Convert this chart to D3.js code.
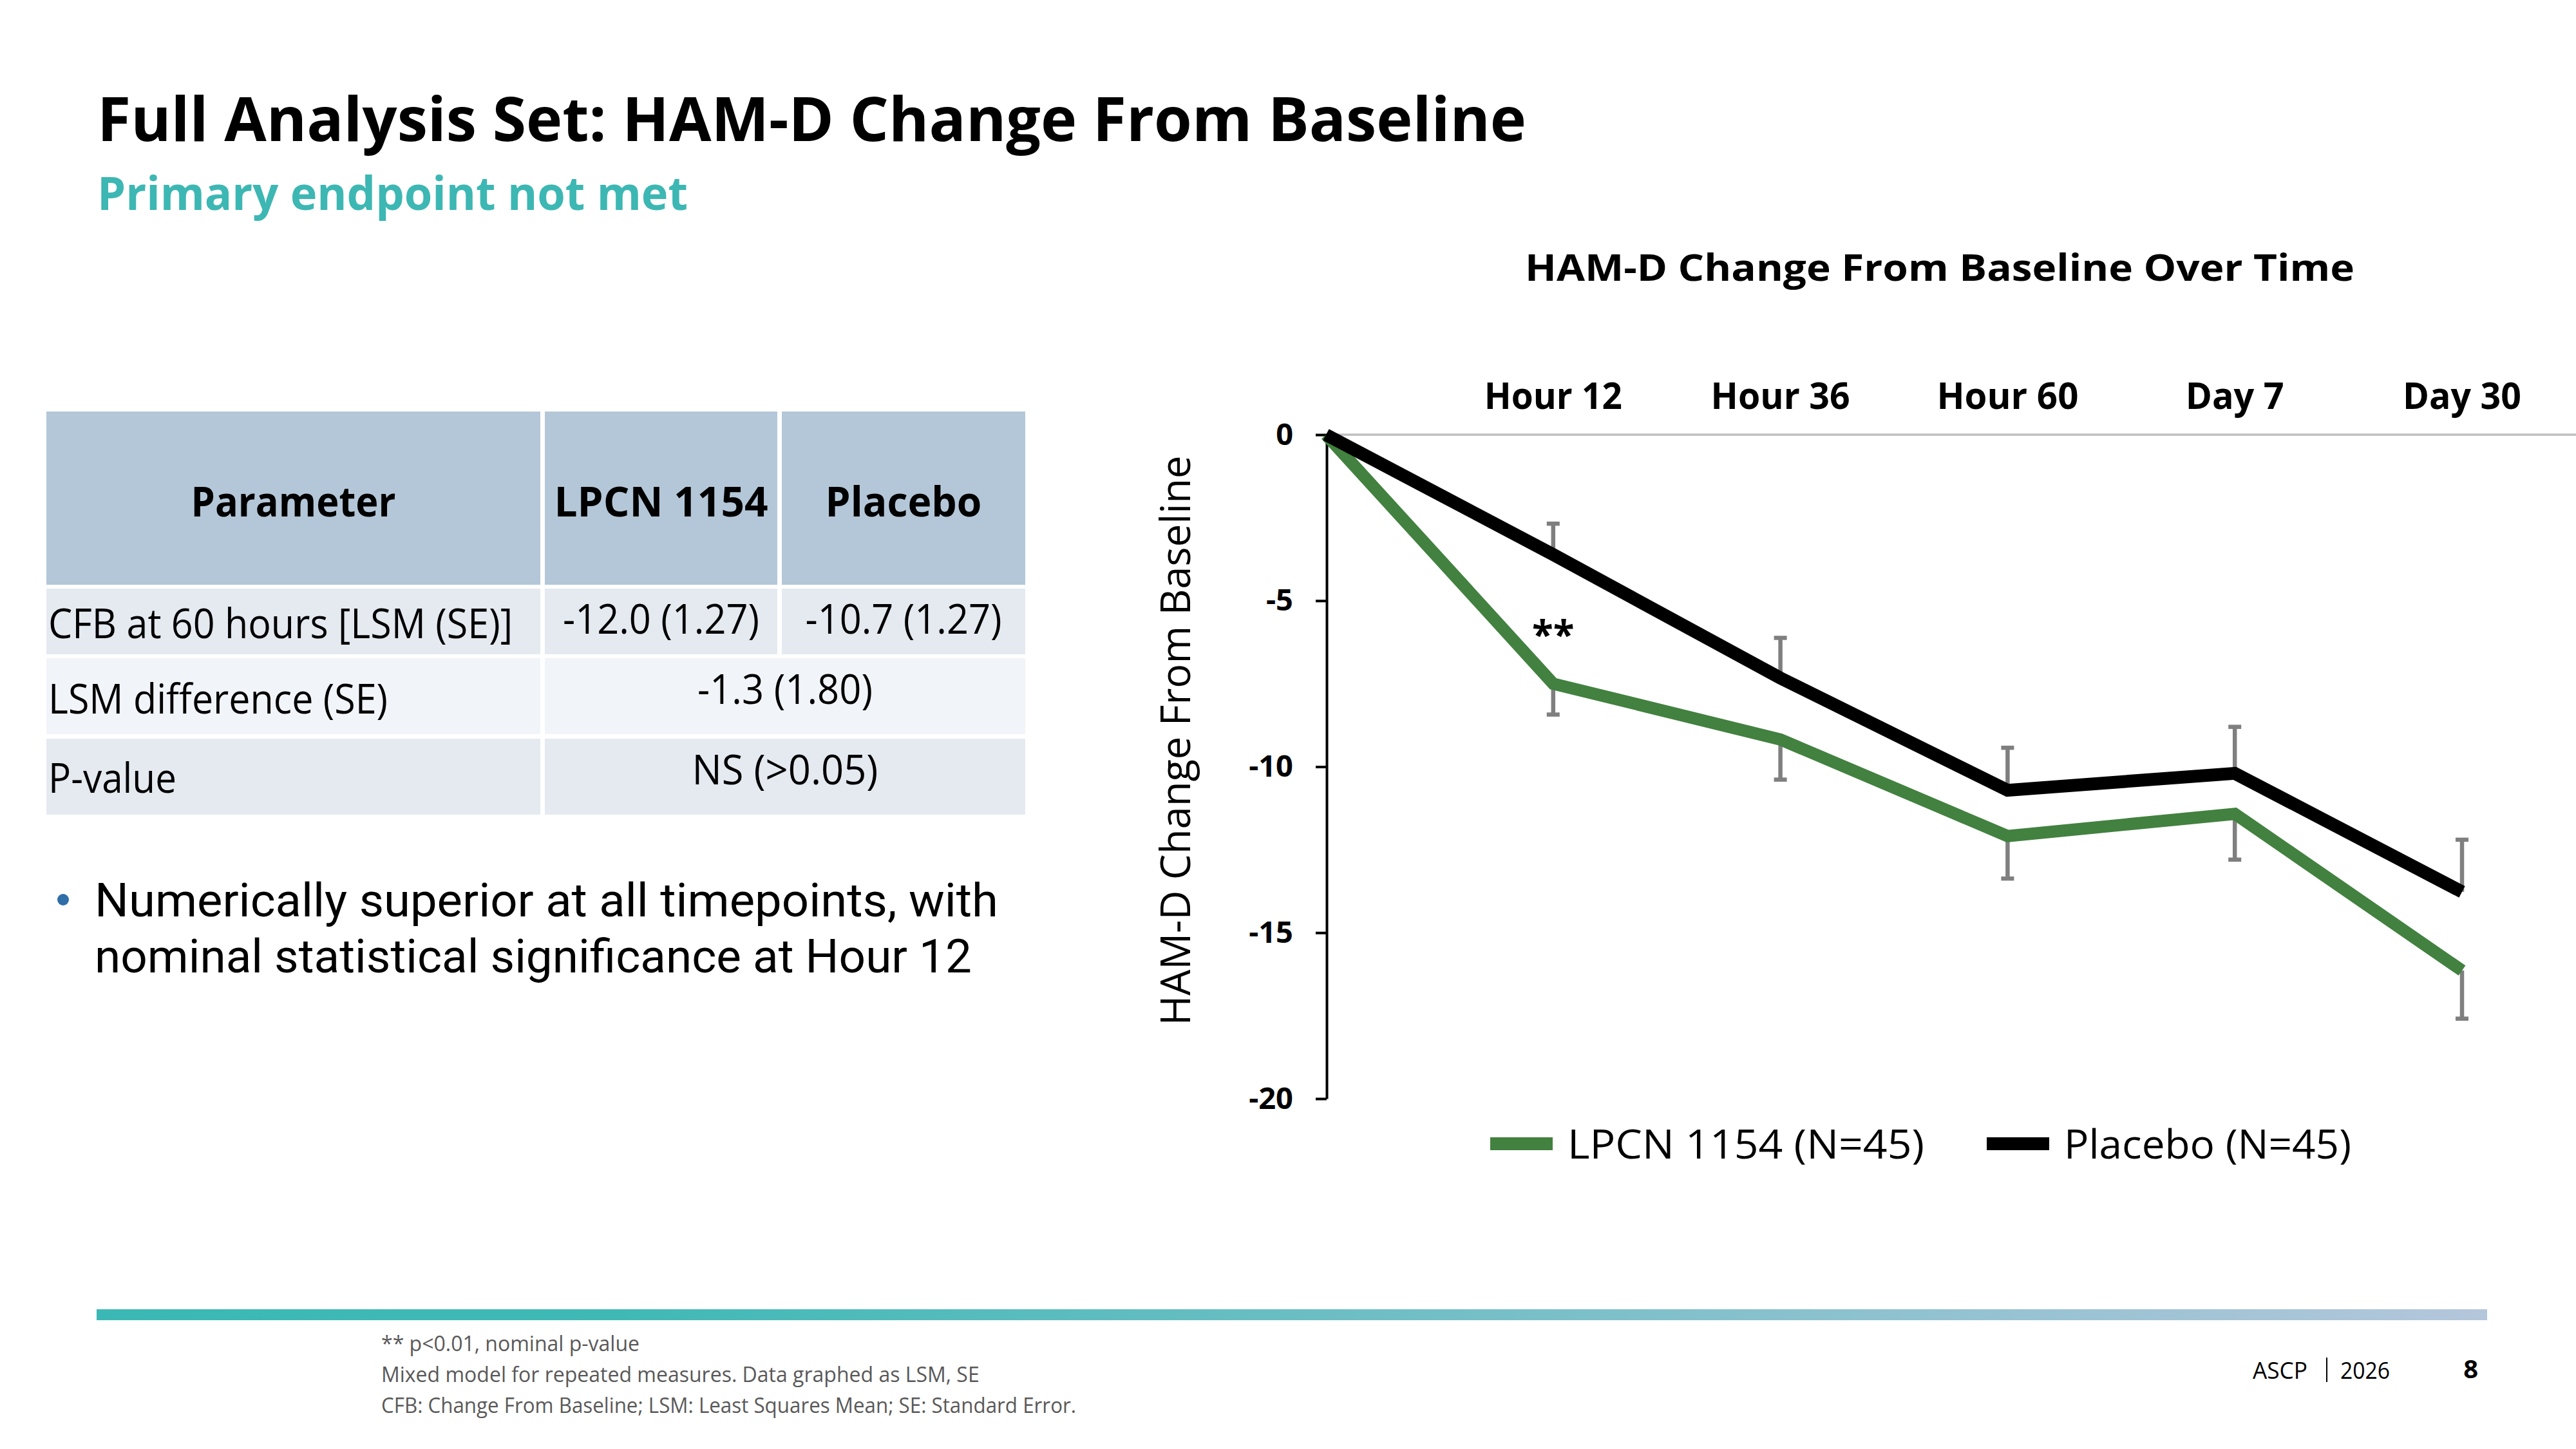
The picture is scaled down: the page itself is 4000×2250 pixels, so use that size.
<!DOCTYPE html>
<html>
<head>
<meta charset="utf-8">
<script src="https://cdn.jsdelivr.net/npm/d3@7/dist/d3.min.js"></script>
<style>
  html, body { margin: 0; padding: 0; background: #ffffff; }
  svg { display: block; }
  text { font-family: "Open Sans", "Noto Sans", sans-serif; }
</style>
</head>
<body>
<script>
// ---------------- DATA ----------------
const timepoints = ["Baseline", "Hour 12", "Hour 36", "Hour 60", "Day 7", "Day 30"];
const lpcnValues = [0, -7.5, -9.18, -12.09, -11.42, -16.14];
const placeboValues = [0, -3.61, -7.33, -10.71, -10.2, -13.77];
const lpcnSE = [0, 0.93, 1.21, 1.28, 1.38, 1.45];
const placeboSE = [0, 0.93, 1.21, 1.28, 1.4, 1.57];
const significance = ["", "**", "", "", "", ""];
const yTicks = [0, -5, -10, -15, -20];
const seriesNames = ["LPCN 1154 (N=45)", "Placebo (N=45)"];

const tableHeader = ["Parameter", "LPCN 1154", "Placebo"];
const tableRows = [
  ["CFB at 60 hours [LSM (SE)]", "-12.0 (1.27)", "-10.7 (1.27)"],
  ["LSM difference (SE)", "-1.3 (1.80)"],
  ["P-value", "NS (>0.05)"]
];
const bulletLines = ["Numerically superior at all timepoints, with", "nominal statistical significance at Hour 12"];
const footnotes = [
  "** p<0.01, nominal p-value",
  "Mixed model for repeated measures. Data graphed as LSM, SE",
  "CFB: Change From Baseline; LSM: Least Squares Mean; SE: Standard Error."
];
const titleText = "Full Analysis Set: HAM-D Change From Baseline";
const subtitleText = "Primary endpoint not met";
const chartTitle = "HAM-D Change From Baseline Over Time";
const yAxisTitle = "HAM-D Change From Baseline";

// ---------------- STYLE / LAYOUT ----------------
const GREEN = "#42813F", BLACK = "#000000", GRAY_ERR = "#7F7F7F", TEAL = "#3DB7B3";
const W = 4000, H = 2250;

const svg = d3.select("body").append("svg").attr("width", W).attr("height", H);

function fit(sel, w) {
  sel.each(function () {
    const L = this.getComputedTextLength();
    if (L > 0 && Math.abs(L - w) / w > 0.01) {
      d3.select(this).attr("textLength", w).attr("lengthAdjust", "spacingAndGlyphs");
    }
  });
  return sel;
}

// Titles
svg.append("text").attr("x", 151).attr("y", 219)
  .attr("font-size", 95).attr("font-weight", 700).attr("fill", "#000")
  .text(titleText).call(fit, 2233);
svg.append("text").attr("x", 151).attr("y", 326)
  .attr("font-size", 72).attr("font-weight", 700).attr("fill", TEAL)
  .text(subtitleText).call(fit, 917);

// ---------------- TABLE ----------------
const colX = [72, 846, 1214];
const colW = [767, 361, 378];
const rowTop = [639, 914, 1022, 1147];
const rowH = [269, 102, 118, 118];
const rowFill = ["#B4C7D8", "#E5EAF1", "#F1F4F8", "#E5EAF1"];
const firstColBase = [802, 991, 1108, 1231];
const valueBase = [802, 984, 1093, 1218];
const headerWidths = [318, 335, 243];
const rowWidths = [[721, 305, 305], [527, 272], [199, 289]];

const table = svg.append("g");
tableHeader.forEach((h, c) => {
  table.append("rect").attr("x", colX[c]).attr("y", rowTop[0])
    .attr("width", colW[c]).attr("height", rowH[0]).attr("fill", rowFill[0]);
  table.append("text").attr("x", colX[c] + colW[c] / 2).attr("y", firstColBase[0])
    .attr("text-anchor", "middle").attr("font-size", 64).attr("font-weight", 700)
    .text(h).call(fit, headerWidths[c]);
});
tableRows.forEach((row, r) => {
  const ri = r + 1;
  table.append("rect").attr("x", colX[0]).attr("y", rowTop[ri])
    .attr("width", colW[0]).attr("height", rowH[ri]).attr("fill", rowFill[ri]);
  table.append("text").attr("x", 75).attr("y", firstColBase[ri])
    .attr("font-size", 64).attr("fill", "#000")
    .text(row[0]).call(fit, rowWidths[r][0]);
  if (row.length === 3) {
    [1, 2].forEach(c => {
      table.append("rect").attr("x", colX[c]).attr("y", rowTop[ri])
        .attr("width", colW[c]).attr("height", rowH[ri]).attr("fill", rowFill[ri]);
      table.append("text").attr("x", colX[c] + colW[c] / 2).attr("y", valueBase[ri])
        .attr("text-anchor", "middle").attr("font-size", 64)
        .text(row[c]).call(fit, rowWidths[r][c]);
    });
  } else {
    const x0 = colX[1], w = colX[2] + colW[2] - colX[1];
    table.append("rect").attr("x", x0).attr("y", rowTop[ri])
      .attr("width", w).attr("height", rowH[ri]).attr("fill", rowFill[ri]);
    table.append("text").attr("x", x0 + w / 2).attr("y", valueBase[ri])
      .attr("text-anchor", "middle").attr("font-size", 64)
      .text(row[1]).call(fit, rowWidths[r][1]);
  }
});

// Bullet
svg.append("circle").attr("cx", 98).attr("cy", 1397).attr("r", 9).attr("fill", "#2F6EA8");
const bulletWidths = [1403, 1362];
bulletLines.forEach((t, i) => {
  svg.append("text").attr("x", 147).attr("y", 1423 + i * 87)
    .style("font-family", "Roboto, 'Open Sans', sans-serif")
    .attr("font-size", 72).attr("fill", "#000").text(t).call(fit, bulletWidths[i]);
});

// ---------------- CHART ----------------
const x = d3.scalePoint().domain(timepoints).range([2059, 3823]);
const y = d3.scaleLinear().domain([0, -20]).range([675, 1706]);

svg.append("text").attr("x", 3012).attr("y", 436).attr("text-anchor", "middle")
  .attr("font-size", 58).attr("font-weight", 700).text(chartTitle).call(fit, 1288);

// zero line
svg.append("line").attr("x1", x(timepoints[0])).attr("x2", W)
  .attr("y1", y(0)).attr("y2", y(0)).attr("stroke", "#BFBFBF").attr("stroke-width", 3.5);

// category labels (top)
const catWidths = [0, 214, 216, 220, 153, 184];
const cats = svg.append("g");
timepoints.forEach((t, i) => {
  if (i === 0) return;
  cats.append("text").attr("x", x(t)).attr("y", 635).attr("text-anchor", "middle")
    .attr("font-size", 58).attr("font-weight", 700).text(t).call(fit, catWidths[i]);
});

// y axis
const yAxis = d3.axisLeft(y).tickValues(yTicks).tickSize(17).tickSizeOuter(0).tickPadding(35)
  .tickFormat(d => String(d));
const ag = svg.append("g").attr("transform", `translate(${x(timepoints[0]) + 1},0)`).call(yAxis);
ag.select(".domain").attr("stroke", "#000").attr("stroke-width", 4);
ag.selectAll(".tick line").attr("stroke", "#000").attr("stroke-width", 4);
ag.selectAll(".tick text").attr("font-family", "'Open Sans', sans-serif")
  .attr("font-size", 47).attr("font-weight", 700).attr("fill", "#000");

svg.append("text").attr("transform", "translate(1848,1150) rotate(-90)")
  .attr("text-anchor", "middle").attr("font-size", 64).attr("fill", "#000")
  .text(yAxisTitle).call(fit, 885);

// error bars
const capW = 20;
function errorBars(vals, se, dir) {
  const g = svg.append("g").attr("stroke", GRAY_ERR).attr("stroke-width", 6.5);
  vals.forEach((v, i) => {
    if (se[i] === 0) return;
    const xi = x(timepoints[i]);
    const end = v + dir * se[i];
    g.append("line").attr("x1", xi).attr("x2", xi).attr("y1", y(v)).attr("y2", y(end));
    g.append("line").attr("x1", xi - capW / 2).attr("x2", xi + capW / 2)
      .attr("y1", y(end)).attr("y2", y(end));
  });
}
errorBars(placeboValues, placeboSE, +1);
errorBars(lpcnValues, lpcnSE, -1);

// lines
const line = d3.line().x((d, i) => x(timepoints[i])).y(d => y(d));
svg.append("path").datum(lpcnValues).attr("d", line).attr("fill", "none")
  .attr("stroke", GREEN).attr("stroke-width", 19).attr("stroke-linejoin", "miter").attr("stroke-linecap", "butt");
svg.append("path").datum(placeboValues).attr("d", line).attr("fill", "none")
  .attr("stroke", BLACK).attr("stroke-width", 20).attr("stroke-linejoin", "miter").attr("stroke-linecap", "butt");

// significance
significance.forEach((s, i) => {
  if (!s) return;
  svg.append("text").attr("x", x(timepoints[i])).attr("y", y(lpcnValues[i]) - 55)
    .attr("text-anchor", "middle").attr("font-size", 60).attr("font-weight", 700).text(s);
});

// legend
const legendX = [2314, 3085];
const legendTextW = [554, 446];
const legendColors = [GREEN, BLACK];
seriesNames.forEach((n, i) => {
  svg.append("rect").attr("x", legendX[i]).attr("y", 1766).attr("width", 97).attr("height", 20)
    .attr("fill", legendColors[i]);
  svg.append("text").attr("x", legendX[i] + 120).attr("y", 1799)
    .attr("font-size", 62).attr("fill", "#000").text(n).call(fit, legendTextW[i]);
});

// ---------------- FOOTER ----------------
const defs = svg.append("defs");
const grad = defs.append("linearGradient").attr("id", "band").attr("x1", "0%").attr("x2", "100%");
grad.append("stop").attr("offset", "0%").attr("stop-color", "#3BB8B5");
grad.append("stop").attr("offset", "22%").attr("stop-color", "#40B9B6");
grad.append("stop").attr("offset", "100%").attr("stop-color", "#B4C6DB");
svg.append("rect").attr("x", 150).attr("y", 2033).attr("width", 3712).attr("height", 17)
  .attr("fill", "url(#band)");

const footW = [403, 921, 1079];
footnotes.forEach((t, i) => {
  svg.append("text").attr("x", 592).attr("y", 2098 + i * 48)
    .attr("font-size", 32).attr("fill", "#595959").text(t).call(fit, footW[i]);
});

svg.append("text").attr("x", 3498).attr("y", 2141).attr("font-size", 37).attr("fill", "#000")
  .text("ASCP").call(fit, 85);
svg.append("line").attr("x1", 3613).attr("x2", 3613).attr("y1", 2108).attr("y2", 2146)
  .attr("stroke", "#000").attr("stroke-width", 2);
svg.append("text").attr("x", 3634).attr("y", 2141).attr("font-size", 37).attr("fill", "#000")
  .text("2026").call(fit, 77);
svg.append("text").attr("x", 3848).attr("y", 2140).attr("text-anchor", "end")
  .attr("font-size", 40).attr("font-weight", 700).attr("fill", "#000").text("8");
</script>
</body>
</html>
